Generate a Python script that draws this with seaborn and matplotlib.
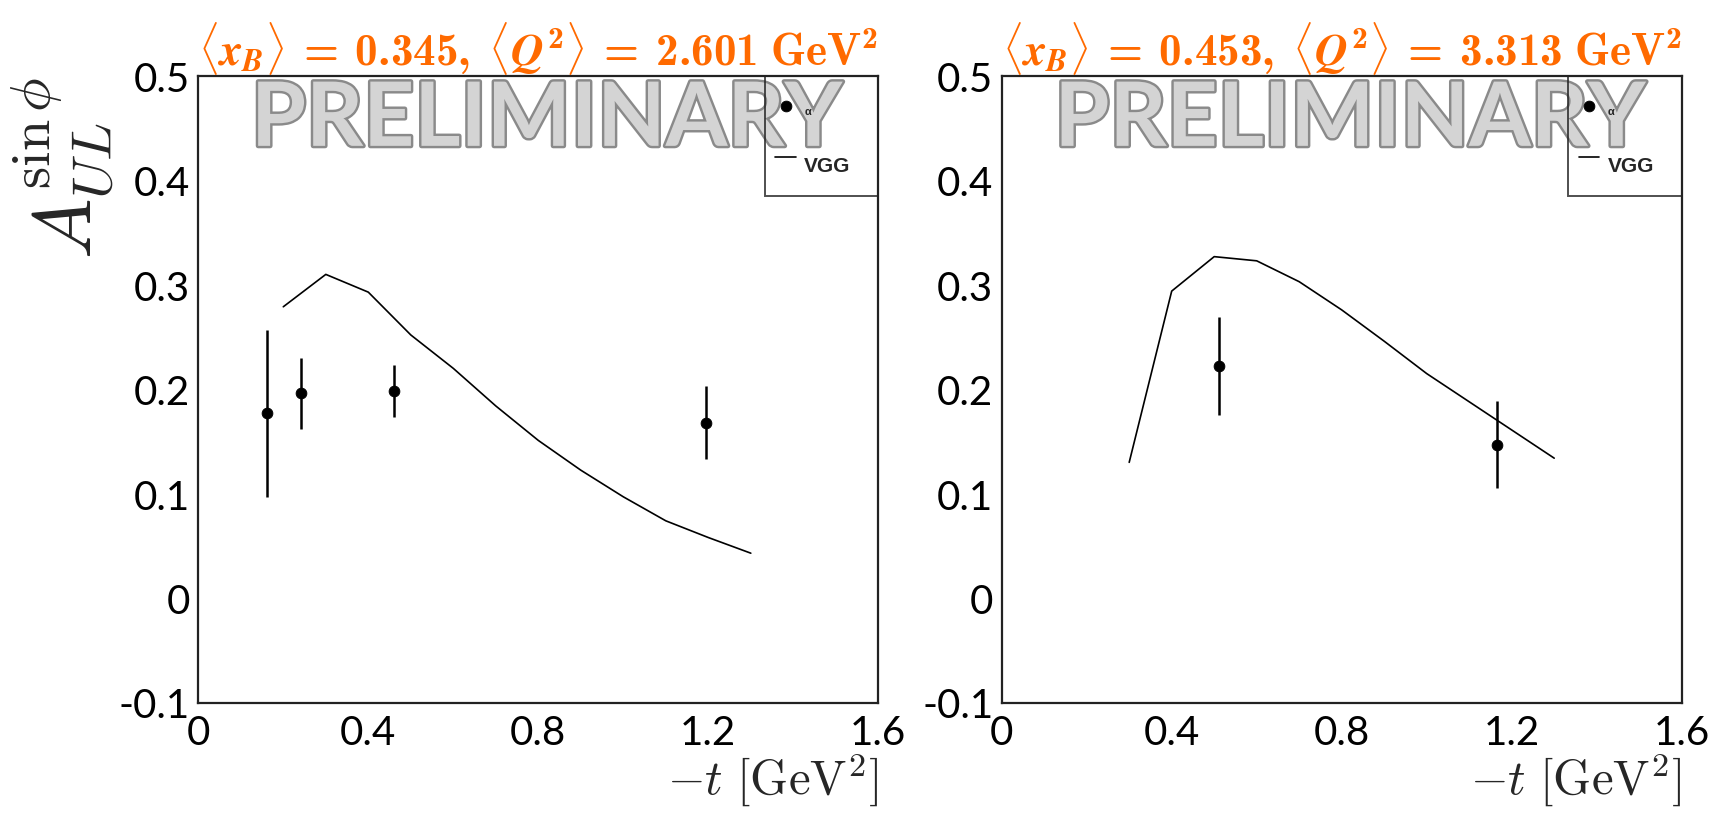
import numpy as np
import pandas as pd
import matplotlib
matplotlib.use("Agg")
import matplotlib.pyplot as plt
import matplotlib.patheffects as pe
from matplotlib.ticker import FixedLocator, FixedFormatter, MultipleLocator
import seaborn as sns

# ---- data: bin 1, <x_B> = 0.345, <Q^2> = 2.601 GeV^2 ----
t_bin1 = [0.161, 0.242, 0.460, 1.194]
a_bin1 = [0.177, 0.196, 0.198, 0.168]
err_bin1 = [0.080, 0.034, 0.025, 0.035]
vgg_t_bin1 = [0.2, 0.3, 0.4, 0.5, 0.6, 0.7, 0.8, 0.9, 1.0, 1.1, 1.2, 1.3]
vgg_a_bin1 = [0.279, 0.310, 0.293, 0.252, 0.220, 0.184, 0.151, 0.1225,
              0.097, 0.074, 0.058, 0.043]

# ---- data: bin 2, <x_B> = 0.453, <Q^2> = 3.313 GeV^2 ----
t_bin2 = [0.512, 1.165]
a_bin2 = [0.222, 0.147]
err_bin2 = [0.047, 0.042]
vgg_t_bin2 = [0.3, 0.4, 0.5, 0.6, 0.7, 0.8, 0.9, 1.0, 1.1, 1.2, 1.3]
vgg_a_bin2 = [0.130, 0.294, 0.327, 0.323, 0.303, 0.276, 0.246, 0.215,
              0.188, 0.161, 0.134]

titles = [
    r"$\langle x_B \rangle \;=\; 0.345,\ \langle Q^2 \rangle \;=\; 2.601\ \mathrm{GeV}^2$",
    r"$\langle x_B \rangle \;=\; 0.453,\ \langle Q^2 \rangle \;=\; 3.313\ \mathrm{GeV}^2$",
]
x_ticks = [0.0, 0.2, 0.4, 0.6, 0.8, 1.0, 1.2, 1.4, 1.6]
x_ticklabels = ["0", "", "0.4", "", "0.8", "", "1.2", "", "1.6"]
y_ticks = [-0.1, 0.0, 0.1, 0.2, 0.3, 0.4, 0.5]
y_ticklabels = ["-0.1", "0", "0.1", "0.2", "0.3", "0.4", "0.5"]
legend_labels = ["α", "VGG"]
watermark = "PRELIMINARY"
x_label = r"$-t\ [\mathrm{GeV}^2]$"
y_label = r"$A_{UL}^{\sin\phi}$"

bins = [
    dict(t=t_bin1, a=a_bin1, err=err_bin1, vt=vgg_t_bin1, va=vgg_a_bin1),
    dict(t=t_bin2, a=a_bin2, err=err_bin2, vt=vgg_t_bin2, va=vgg_a_bin2),
]

sns.set_theme(style="white")
plt.rcParams["font.family"] = ["Lato", "DejaVu Sans"]
plt.rcParams["mathtext.fontset"] = "cm"
plt.rcParams["axes.unicode_minus"] = False
# bold Computer Modern for the bin headers (used through math_fontfamily="custom")
plt.rcParams["mathtext.rm"] = "cmb10"
plt.rcParams["mathtext.bf"] = "cmb10"
plt.rcParams["mathtext.it"] = "STIXGeneral:italic:bold"
plt.rcParams["mathtext.fallback"] = "cm"

W, H = 1714, 828
fig = plt.figure(figsize=(W / 100, H / 100), dpi=100)
fig.patch.set_facecolor("white")

ax_bottom = (H - 703.5) / H
ax_height = (703.5 - 77) / H
ax_width = 680 / W
lefts = [198.3 / W, 1001.7 / W]

orange = "#FF6A00"

for i, (left, b) in enumerate(zip(lefts, bins)):
    ax = fig.add_axes([left, ax_bottom, ax_width, ax_height])
    ax.set_facecolor("white")

    curve = pd.DataFrame({"t": b["vt"], "a": b["va"]})
    pts = pd.DataFrame({"t": b["t"], "a": b["a"], "err": b["err"]})

    sns.lineplot(data=curve, x="t", y="a", ax=ax, color="black",
                 linewidth=1.2, legend=False, zorder=3)
    ax.errorbar(pts["t"], pts["a"], yerr=pts["err"], fmt="none",
                ecolor="black", elinewidth=1.8, capsize=0, zorder=4)
    sns.scatterplot(data=pts, x="t", y="a", ax=ax, color="black",
                    edgecolor="black", s=60, marker="o", legend=False,
                    zorder=5)

    ax.set_xlim(0, 1.6)
    ax.set_ylim(-0.1, 0.5)

    ax.xaxis.set_major_locator(FixedLocator(x_ticks))
    ax.xaxis.set_major_formatter(FixedFormatter(x_ticklabels))
    ax.xaxis.set_minor_locator(MultipleLocator(0.05))
    ax.yaxis.set_major_locator(FixedLocator(y_ticks))
    ax.yaxis.set_major_formatter(FixedFormatter(y_ticklabels))
    ax.yaxis.set_minor_locator(MultipleLocator(0.02))

    ax.tick_params(which="both", direction="in", top=False, right=False,
                   color="#111111", width=1.3)
    ax.tick_params(which="major", length=15.5, labelsize=29, pad=6,
                   labelcolor="black")
    ax.tick_params(which="minor", length=8)
    ax.tick_params(axis="x", which="major", pad=8)

    for sp in ax.spines.values():
        sp.set_visible(True)
        sp.set_color("#222222")
        sp.set_linewidth(1.6)

    ax.set_xlabel(x_label, fontsize=35, loc="right", labelpad=0)
    if i == 0:
        ax.set_ylabel(y_label, fontsize=58, loc="top", labelpad=2)
    else:
        ax.set_ylabel("")

    ax.set_title(titles[i], color=orange, fontsize=32.5, pad=8,
                 math_fontfamily="custom")

    # legend box in the upper right corner
    handles = [ax.collections[-1], ax.lines[0]]
    leg = ax.legend(handles, legend_labels, loc="upper left",
                    bbox_to_anchor=(0.833, 0.813, 0.167, 0.187),
                    mode="expand", frameon=True, fancybox=False,
                    borderaxespad=0, borderpad=0.5, labelspacing=0.65,
                    handlelength=1.0, handleheight=2.8, handletextpad=0.4,
                    scatteryoffsets=[0.2],
                    prop={"family": "Liberation Sans", "weight": "bold",
                          "size": 15})
    leg.get_frame().set_edgecolor("#222222")
    leg.get_frame().set_linewidth(1.4)
    leg.get_frame().set_facecolor("none")
    leg.get_texts()[0].set_fontsize(8)
    leg.set_zorder(7)

    ax.text(0.512, 0.93, watermark, transform=ax.transAxes,
            ha="center", va="center", fontsize=64, fontweight="bold",
            family="Lato", color="#d4d4d4", zorder=6,
            path_effects=[pe.withStroke(linewidth=3.5, foreground="#8a8a8a")])

fig.savefig("out.png", dpi=100, facecolor="white")
